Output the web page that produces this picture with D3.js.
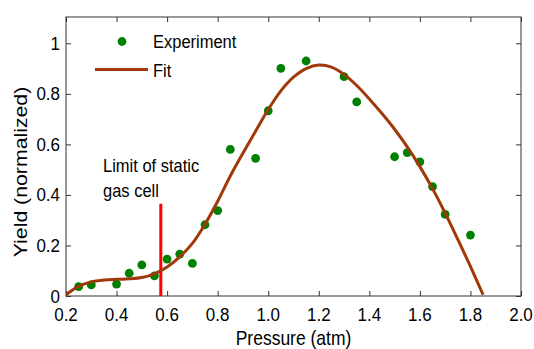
<!DOCTYPE html>
<html>
<head>
<meta charset="utf-8">
<script src="https://cdn.jsdelivr.net/npm/d3@7"></script>
<style>
  body { margin: 0; background: #fff; }
  text { font-family: "Liberation Sans", Arial, sans-serif; fill: #000; }
</style>
</head>
<body>
<div id="chart"></div>
<script>
const expPressure = [0.25, 0.30, 0.40, 0.45, 0.50, 0.55, 0.60, 0.65, 0.70, 0.75, 0.80,
  0.85, 0.95, 1.00, 1.05, 1.15, 1.30, 1.35, 1.50, 1.55, 1.60, 1.65, 1.70, 1.80];
const expYield = [0.037, 0.044, 0.047, 0.090, 0.123, 0.080, 0.146, 0.166, 0.129, 0.282, 0.338,
  0.580, 0.545, 0.733, 0.901, 0.930, 0.868, 0.768, 0.551, 0.567, 0.531, 0.433, 0.323, 0.241];

const fitPressure = [0.20, 0.25, 0.30, 0.35, 0.40, 0.45, 0.50, 0.55, 0.60, 0.65, 0.70, 0.75,
  0.80, 0.85, 0.90, 0.95, 1.00, 1.05, 1.10, 1.15, 1.20, 1.25, 1.30, 1.35, 1.40, 1.45,
  1.50, 1.55, 1.60, 1.65, 1.70, 1.75, 1.80, 1.85];
const fitYield = [0.005, 0.038, 0.056, 0.063, 0.066, 0.068, 0.073, 0.088, 0.115, 0.155, 0.208, 0.284,
  0.375, 0.475, 0.565, 0.652, 0.738, 0.812, 0.866, 0.900, 0.914, 0.906, 0.877, 0.833, 0.780, 0.722,
  0.660, 0.590, 0.512, 0.425, 0.328, 0.224, 0.117, 0.005];

const xTicks = [0.2, 0.4, 0.6, 0.8, 1.0, 1.2, 1.4, 1.6, 1.8, 2.0];
const yTicks = [0, 0.2, 0.4, 0.6, 0.8, 1];
const limitPressure = 0.575;
const limitTop = 0.365;

const width = 534;
const height = 349;
const margin = { left: 66, right: 13, top: 17, bottom: 53 };
const fs = "16.5px";
const stretch = 1.12;

const svg = d3
  .select("#chart")
  .append("svg")
  .attr("width", width)
  .attr("height", height);

const x = d3
  .scaleLinear()
  .domain([0.2, 2.0])
  .range([margin.left, width - margin.right]);
const y = d3
  .scaleLinear()
  .domain([0, 1])
  .range([height - margin.bottom, height - margin.bottom - 252.7]);

// text drawn slightly taller than wide, as in the source image
function label(px, py, str, anchor = "start", size = fs) {
  return svg
    .append("text")
    .attr("transform", `translate(${px},${py}) scale(1,${stretch})`)
    .attr("text-anchor", anchor)
    .style("font-size", size)
    .text(str);
}

svg
  .append("clipPath")
  .attr("id", "clip")
  .append("rect")
  .attr("x", x(0.2))
  .attr("y", margin.top)
  .attr("width", x(2.0) - x(0.2))
  .attr("height", y(0) - margin.top);

// axes with inward ticks, mirrored on top and right
const axisStyle = (g) => {
  g.select(".domain").remove();
  g.selectAll(".tick line").attr("stroke", "#333");
  g.selectAll("text").remove();
};

svg
  .append("g")
  .attr("transform", `translate(0,${y(0)})`)
  .call(d3.axisBottom(x).tickValues(xTicks).tickSizeInner(-5).tickSizeOuter(0))
  .call(axisStyle);
svg
  .append("g")
  .attr("transform", `translate(0,${margin.top})`)
  .call(d3.axisTop(x).tickValues(xTicks).tickSizeInner(-5).tickSizeOuter(0))
  .call(axisStyle);
svg
  .append("g")
  .attr("transform", `translate(${x(0.2)},0)`)
  .call(d3.axisLeft(y).tickValues(yTicks).tickSizeInner(-5).tickSizeOuter(0))
  .call(axisStyle);
svg
  .append("g")
  .attr("transform", `translate(${x(2.0)},0)`)
  .call(d3.axisRight(y).tickValues(yTicks).tickSizeInner(-5).tickSizeOuter(0))
  .call(axisStyle);

xTicks.forEach((t) => label(x(t), y(0) + 25, d3.format(".1f")(t), "middle", "17px"));
yTicks.forEach((t) =>
  label(x(0.2) - 6, y(t) + 6.5, t === 0 || t === 1 ? String(t) : d3.format(".1f")(t), "end", "17px")
);

svg
  .append("rect")
  .attr("x", x(0.2))
  .attr("y", margin.top)
  .attr("width", x(2.0) - x(0.2))
  .attr("height", y(0) - margin.top)
  .attr("fill", "none")
  .attr("stroke", "#333")
  .attr("stroke-width", 1);

// limit line
svg
  .append("line")
  .attr("x1", x(limitPressure))
  .attr("x2", x(limitPressure))
  .attr("y1", y(0))
  .attr("y2", y(limitTop))
  .attr("stroke", "#ff0000")
  .attr("stroke-width", 3);

// points
svg
  .append("g")
  .selectAll("circle")
  .data(expPressure)
  .join("circle")
  .attr("cx", (d) => x(d))
  .attr("cy", (d, i) => y(expYield[i]))
  .attr("r", 4.4)
  .attr("fill", "#008000");

// fit
const line = d3
  .line()
  .x((d) => x(d[0]))
  .y((d) => y(d[1]))
  .curve(d3.curveCatmullRom);

svg
  .append("path")
  .datum(fitPressure.map((p, i) => [p, fitYield[i]]))
  .attr("clip-path", "url(#clip)")
  .attr("fill", "none")
  .attr("stroke", "#a0380a")
  .attr("stroke-width", 3)
  .attr("d", line);

// legend
svg.append("circle").attr("cx", 122).attr("cy", 41.5).attr("r", 4.4).attr("fill", "#008000");
label(153, 48, "Experiment");
svg
  .append("line")
  .attr("x1", 95)
  .attr("x2", 148)
  .attr("y1", 69.5)
  .attr("y2", 69.5)
  .attr("stroke", "#a0380a")
  .attr("stroke-width", 3);
label(153, 76.5, "Fit");

// annotation
label(103, 171.5, "Limit of static");
label(103, 196.5, "gas cell");

// axis titles
label((x(0.2) + x(2.0)) / 2, 345, "Pressure (atm)", "middle", "17.5px");
svg
  .append("text")
  .attr("transform", `translate(27,172) rotate(-90) scale(${stretch},1)`)
  .attr("text-anchor", "middle")
  .style("font-size", "19px")
  .text("Yield (normalized)");
</script>
</body>
</html>
